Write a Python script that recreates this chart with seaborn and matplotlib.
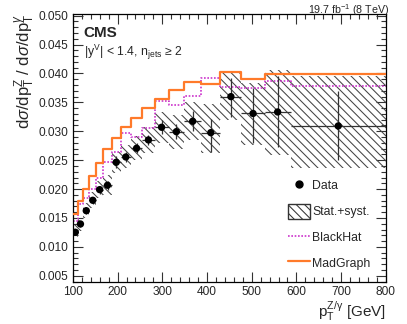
import numpy as np
import seaborn as sns
import matplotlib.pyplot as plt
from matplotlib.lines import Line2D
from matplotlib.patches import Patch
from matplotlib.ticker import MultipleLocator

# bin edges in pT [GeV]
edges = [100, 111, 123, 137, 152, 168, 187, 207, 230, 255, 283, 314,
         349, 387, 430, 477, 529, 587, 800]

data = [0.01253, 0.01396, 0.01626, 0.01806, 0.01990, 0.02066, 0.02464,
        0.02555, 0.02706, 0.02850, 0.03069, 0.02993, 0.03173, 0.02976,
        0.03599, 0.03308, 0.03334, 0.03092]
stat_lo = [0.0120, 0.0134, 0.0157, 0.0174, 0.0192, 0.0199, 0.0236,
           0.0246, 0.0262, 0.0276, 0.0295, 0.0286, 0.0300, 0.0265,
           0.0325, 0.0279, 0.0273, 0.0250]
stat_hi = [0.0131, 0.0145, 0.0168, 0.0187, 0.0206, 0.0214, 0.0257,
           0.0265, 0.0279, 0.0294, 0.0319, 0.0313, 0.0335, 0.0322,
           0.0392, 0.0374, 0.0395, 0.0370]
band_lo = [0.0115, 0.0128, 0.0150, 0.0167, 0.0184, 0.0190, 0.0228,
           0.0236, 0.0250, 0.0262, 0.0280, 0.0270, 0.0285, 0.0262,
           0.0320, 0.0276, 0.0259, 0.0236]
band_hi = [0.0137, 0.0152, 0.0176, 0.0195, 0.0214, 0.0224, 0.0265,
           0.0276, 0.0292, 0.0308, 0.0333, 0.0328, 0.0350, 0.0348,
           0.0403, 0.0383, 0.0406, 0.0395]

blackhat = [0.01440, 0.01750, 0.01840, 0.02000, 0.02190, 0.02474, 0.02647,
            0.02965, 0.02905, 0.03062, 0.03529, 0.03455, 0.03611, 0.03917,
            0.03772, 0.03744, 0.03865, 0.03789]
madgraph = [0.01575, 0.01800, 0.02007, 0.02232, 0.02446, 0.02694, 0.02879,
            0.03069, 0.03230, 0.03398, 0.03560, 0.03720, 0.03860, 0.03820,
            0.04030, 0.03900, 0.03990, 0.03990]

edges = np.array(edges, dtype=float)
centers = 0.5 * (edges[:-1] + edges[1:])
widths = np.diff(edges)
data = np.array(data)

orange = "#ff7a2a"
purple = "#cc33cc"

sns.set_style("ticks")
plt.rcParams["font.family"] = ["Liberation Sans", "DejaVu Sans"]
plt.rcParams["mathtext.fontset"] = "custom"
plt.rcParams["mathtext.rm"] = "Liberation Sans"
plt.rcParams["mathtext.it"] = "Liberation Sans:italic"
plt.rcParams["mathtext.bf"] = "Liberation Sans:bold"
plt.rcParams["hatch.linewidth"] = 0.75
plt.rcParams["hatch.color"] = "#444444"

fig = plt.figure(figsize=(4.07, 3.24), dpi=100)
ax = fig.add_axes([0.179, 0.131, 0.769, 0.826])

# stat+syst band
ax.bar(edges[:-1], np.array(band_hi) - np.array(band_lo), bottom=band_lo,
       width=widths, align="edge", fill=False, hatch="\\\\\\\\",
       linewidth=0, edgecolor="#444444", zorder=1)

# step curves: repeat the last value so the step reaches the right edge
sns.lineplot(x=edges, y=blackhat + blackhat[-1:], drawstyle="steps-post",
             estimator=None, color=purple, linestyle=(0, (1, 1)),
             linewidth=1.2, ax=ax, zorder=2)
sns.lineplot(x=edges, y=madgraph + madgraph[-1:], drawstyle="steps-post",
             estimator=None, color=orange, linewidth=1.6, ax=ax, zorder=3)

ax.errorbar(centers, data,
            xerr=[centers - edges[:-1], edges[1:] - centers],
            yerr=[data - np.array(stat_lo), np.array(stat_hi) - data],
            fmt="none", ecolor="#333333", elinewidth=0.9, zorder=4)
sns.scatterplot(x=centers, y=data, color="black", s=28, edgecolor="none",
                ax=ax, zorder=5)

ax.set_xlim(100, 800)
ax.set_ylim(0.004, 0.0503)
ax.xaxis.set_major_locator(MultipleLocator(100))
ax.xaxis.set_minor_locator(MultipleLocator(20))
ax.yaxis.set_major_locator(MultipleLocator(0.005))
ax.yaxis.set_minor_locator(MultipleLocator(0.001))
ax.yaxis.set_major_formatter(plt.FuncFormatter(lambda v, p: f"{v:.3f}"))
ax.tick_params(which="both", direction="in", top=True, right=True,
               labelsize=8.6, width=0.8, color="#333333")
ax.tick_params(which="major", length=7)
ax.tick_params(which="minor", length=3.5)
for s in ax.spines.values():
    s.set_linewidth(0.9)
    s.set_color("black")

ax.text(0.035, 0.93, "CMS", transform=ax.transAxes, fontsize=11,
        fontweight="bold", va="center")
ax.text(0.035, 0.855, r"|y$^{\mathrm{V}}$| < 1.4, n$_{\mathrm{jets}}$ ≥ 2",
        transform=ax.transAxes, fontsize=8.8, va="center")
fig.text(0.956, 0.958, r"19.7 fb$^{-1}$ (8 TeV)", ha="right", va="baseline",
         fontsize=7.7)

handles = [
    Line2D([], [], marker="o", color="black", linestyle="none", markersize=5),
    Patch(facecolor="white", edgecolor="#333333", hatch="\\\\\\\\", linewidth=1),
    Line2D([], [], color=purple, linestyle=(0, (1, 1)), linewidth=1.2),
    Line2D([], [], color=orange, linewidth=1.6),
]
labels = ["Data", "Stat.+syst.", "BlackHat", "MadGraph"]
ax.legend(handles, labels, loc="upper left", bbox_to_anchor=(0.686, 0.387),
          frameon=False, fontsize=8.8, labelspacing=0.9, handlelength=1.8,
          handleheight=1.5, handletextpad=0.2, borderaxespad=0,
          borderpad=0)
ax.set_xlabel(r"p$_{\mathrm{T}}^{\mathrm{Z/\gamma}}$ [GeV]", fontsize=11,
              loc="right", labelpad=1)
ax.set_ylabel(r"d$\sigma$/dp$_{\mathrm{T}}^{\mathrm{Z}}$ / d$\sigma$/dp$_{\mathrm{T}}^{\gamma}$",
              fontsize=12, loc="top")
ax.yaxis.set_label_coords(-0.115, 1.0)

fig.savefig("out.png", dpi=100)
